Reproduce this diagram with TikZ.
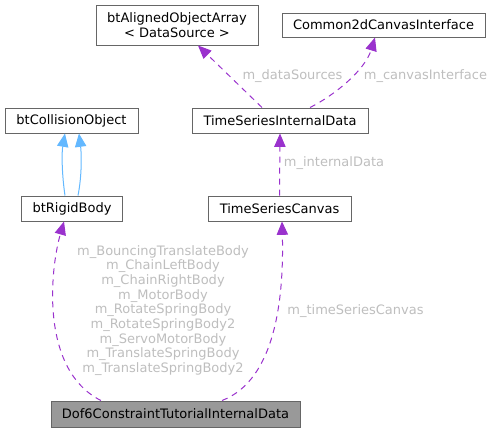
\documentclass[tikz,border=0pt]{standalone}
\usepackage{fontspec}
\setmainfont{DejaVu Sans}
\usetikzlibrary{arrows.meta}
\definecolor{edgec}{HTML}{9A32CD}
\definecolor{inhc}{HTML}{63B8FF}
\definecolor{lblc}{HTML}{BEBEBE}
\definecolor{boxc}{HTML}{666666}
\definecolor{curc}{HTML}{999999}

\begin{document}
\begin{tikzpicture}[
  x=0.75pt,y=-0.75pt,
  box/.style={draw=boxc,line width=0.75pt,align=center,inner sep=0pt,font=\fontsize{9.75pt}{11pt}\selectfont,minimum height=18.75pt},
  lbl/.style={text=lblc,align=center,inner sep=0pt,font=\fontsize{9.75pt}{11pt}\selectfont},
  ar/.style={-{Triangle[length=10pt,width=8.5pt,fill=edgec]},draw=edgec,line width=0.75pt,dash pattern=on 4.5pt off 3.75pt},
  inh/.style={-{Triangle[length=10pt,width=8.5pt,fill=inhc]},draw=inhc,line width=0.75pt}]
\useasboundingbox (0,0) rectangle (495,432);
\node[box,minimum width=121.5pt,minimum height=30pt] (arr) at (177,25) {btAlignedObjectArray\\< DataSource >};
\node[box,minimum width=152.25pt,minimum height=18pt] (c2d) at (383.5,25) {Common2dCanvasInterface};
\node[box,minimum width=99.75pt] (col) at (71.5,120.5) {btCollisionObject};
\node[box,minimum width=132pt] (tsid) at (280,120.5) {TimeSeriesInternalData};
\node[box,minimum width=75.75pt] (rb) at (72,208.5) {btRigidBody};
\node[box,minimum width=107.25pt] (tsc) at (279.5,208.5) {TimeSeriesCanvas};
\node[box,fill=curc,minimum width=186.75pt,minimum height=19.5pt] (dof) at (175.5,414) {Dof6ConstraintTutorialInternalData};
\draw[inh] ([xshift=-5.25pt]rb.north) .. controls ([xshift=-7.5pt,yshift=15pt]rb.north) and ([xshift=-7.5pt,yshift=-15pt]col.south) .. ([xshift=-4.9pt]col.south);
\draw[inh] ([xshift=4.5pt]rb.north) .. controls ([xshift=7.5pt,yshift=15pt]rb.north) and ([xshift=7.5pt,yshift=-15pt]col.south) .. ([xshift=5.6pt]col.south);
\draw[ar] ([xshift=-13.5pt]tsid.north) -- ([xshift=15.75pt]arr.south);
\draw[ar] ([xshift=22.5pt]tsid.north) .. controls (335,95) and (365,70) .. ([xshift=-6.4pt]c2d.south);
\draw[ar] (tsc.north) -- (tsid.south);
\draw[ar] ([xshift=-55.9pt]dof.north) .. controls (40,370) and (50,270) .. ([xshift=-6pt]rb.south);
\draw[ar] ([xshift=34.9pt]dof.north) .. controls (275,380) and (284,300) .. ([xshift=1.9pt]tsc.south);
\node[lbl] (l1) at (292.5,76) {m\_dataSources};
\node[lbl] (l2) at (425.5,76) {m\_canvasInterface};
\node[lbl] (l3) at (334,163) {m\_internalData};
\node[lbl] (l4) at (163,310.4) {m\_BouncingTranslateBody\\m\_ChainLeftBody\\m\_ChainRightBody\\m\_MotorBody\\m\_RotateSpringBody\\m\_RotateSpringBody2\\m\_ServoMotorBody\\m\_TranslateSpringBody\\m\_TranslateSpringBody2};
\node[lbl] (l5) at (355.5,310.7) {m\_timeSeriesCanvas};
\end{tikzpicture}
\end{document}
